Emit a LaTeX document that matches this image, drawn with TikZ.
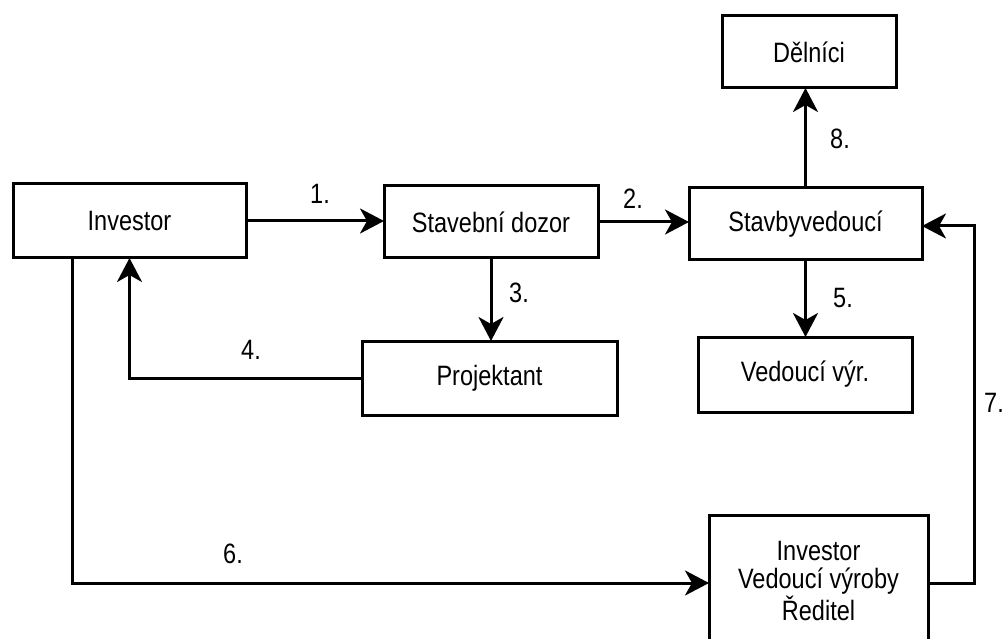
\documentclass[tikz,border=0pt]{standalone}
\usepackage{fontspec}
\setmainfont[FakeStretch=0.84]{Liberation Sans}
\usetikzlibrary{arrows.meta}
\begin{document}
\begin{tikzpicture}[x=1pt,y=-1pt,
  box/.style={draw=black, line width=3pt, rectangle, inner sep=0pt, outer sep=0pt,
    font=\fontsize{28}{28}\selectfont, align=center},
  lbl/.style={inner sep=0pt, font=\fontsize{28}{28}\selectfont},
  link/.style={line width=3pt, -{Stealth[length=24pt,width=25pt,inset=7pt]}},
  wire/.style={line width=3pt}]
\useasboundingbox (0,0) rectangle (1007,639);
\clip (0,0) rectangle (1007,639);

% boxes
\node[box, minimum width=233pt, minimum height=74pt] (inv)    at (129.5,221) {Investor};
\node[box, minimum width=214pt, minimum height=72pt] (dozor)  at (491,222)   {Stavební dozor};
\node[box, minimum width=233pt, minimum height=72pt] (stavby) at (805.5,224) {Stavbyvedoucí};
\node[box, minimum width=174pt, minimum height=72pt] (delnici) at (809,52)   {Dělníci};
\node[box, minimum width=255pt, minimum height=74pt] (proj)   at (489.5,378) {Projektant};
\node[box, minimum width=214pt, minimum height=75pt] (vyr)    at (805,374.5) {Vedoucí výr.};
\node[box, minimum width=219pt, minimum height=132pt] (ired)  at (818.5,581) {Investor\\Vedoucí výroby\\Ředitel};

% connectors
\draw[link] (inv.east) -- (inv.east -| dozor.west);
\draw[link] (dozor.east) -- (dozor.east -| stavby.west);
\draw[link] (stavby.north) -- (stavby.north |- delnici.south);
\draw[link] (dozor.south) -- (dozor.south |- proj.north);
\draw[link] (stavby.south) -- (stavby.south |- vyr.north);
\draw[link] (proj.west) -| (inv.south);
\draw[link] ([xshift=59pt]inv.south west) |- ([yshift=-2pt]ired.west);
\draw[link] ([yshift=-2pt]ired.east) -- ++(46,0) |- ([yshift=-2pt]stavby.east);

% step numbers
\node[lbl] (n1) at (320,194) {1.};
\node[lbl] (n2) at (633,199) {2.};
\node[lbl] (n3) at (519,293) {3.};
\node[lbl] (n4) at (251,350) {4.};
\node[lbl] (n5) at (843,298) {5.};
\node[lbl] (n6) at (233,554) {6.};
\node[lbl] (n7) at (994,403) {7.};
\node[lbl] (n8) at (840,139) {8.};
\end{tikzpicture}
\end{document}
